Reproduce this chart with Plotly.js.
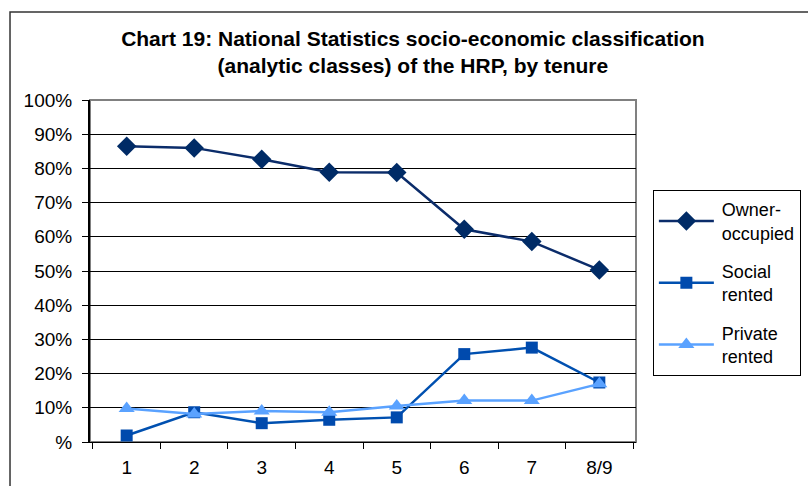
<!DOCTYPE html>
<html>
<head>
<meta charset="utf-8">
<script src="https://cdn.plot.ly/plotly-3.0.1.min.js"></script>
<style>
  html, body { margin: 0; padding: 0; background: #fff; }
  #plotContainer { width: 808px; height: 486px; }
</style>
</head>
<body>
<div id="plotContainer"></div>
<script>
// NS-SEC analytic classes of the HRP
var classes = ["1", "2", "3", "4", "5", "6", "7", "8/9"];

// share of each class by tenure, percent
var ownerOccupied = [86.5, 86.0, 82.7, 78.9, 78.8, 62.2, 58.6, 50.3];
var socialRented = [1.9, 8.7, 5.5, 6.5, 7.2, 25.7, 27.6, 17.4];
var privateRented = [9.8, 8.2, 9.1, 8.7, 10.5, 12.1, 12.1, 17.0];

var yTickVals = [0, 10, 20, 30, 40, 50, 60, 70, 80, 90, 100];
var yTickText = ["%", "10%", "20%", "30%", "40%", "50%", "60%", "70%", "80%", "90%", "100%"];

var font = "Liberation Sans, Arial, sans-serif";

var trace1 = {
  x: classes,
  y: ownerOccupied,
  name: "Owner-<br>occupied",
  legendgroup: "a",
  mode: "lines+markers",
  type: "scatter",
  line: { color: "#0b2c6a", width: 2.5 },
  marker: { symbol: "diamond", size: 15, color: "#002b66" },
};

var trace2 = {
  x: classes,
  y: socialRented,
  name: "Social<br>rented",
  legendgroup: "b",
  mode: "lines+markers",
  type: "scatter",
  line: { color: "#0050b0", width: 2.5 },
  marker: { symbol: "square", size: 12, color: "#004aad" },
};

var trace3 = {
  x: classes,
  y: privateRented,
  name: "Private<br>rented",
  legendgroup: "c",
  mode: "lines+markers",
  type: "scatter",
  line: { color: "#5aa2ff", width: 2.5 },
  marker: { symbol: "triangle-up", size: 14, color: "#5aa2ff" },
};

var data = [trace1, trace2, trace3];

var layout = {
  width: 808,
  height: 486,
  margin: { l: 90, r: 172, t: 100, b: 44 },
  paper_bgcolor: "#ffffff",
  plot_bgcolor: "#ffffff",
  font: { family: font, size: 19, color: "#000" },
  showlegend: true,
  title: {
    text: "<b>Chart 19: National Statistics socio-economic classification<br>(analytic classes) of the HRP, by tenure</b>",
    font: { family: font, size: 21, color: "#000" },
    xref: "container",
    x: 0.511,
    xanchor: "center",
    yref: "container",
    y: 0.905,
    yanchor: "top",
  },
  xaxis: {
    type: "category",
    tickson: "boundaries",
    ticks: "outside",
    ticklen: 6,
    tickcolor: "#000",
    ticklabelstandoff: 8,
    showgrid: false,
    showline: true,
    linecolor: "#000",
    linewidth: 1,
    tickfont: { family: font, size: 19 },
    fixedrange: true,
  },
  yaxis: {
    range: [0, 100],
    tickvals: yTickVals,
    ticktext: yTickText,
    ticks: "outside",
    ticklen: 6,
    tickcolor: "#000",
    ticklabelstandoff: 6,
    showgrid: true,
    gridcolor: "#000",
    gridwidth: 1,
    showline: true,
    linecolor: "#000",
    linewidth: 2,
    zeroline: false,
    tickfont: { family: font, size: 19 },
    fixedrange: true,
  },
  legend: {
    xref: "container",
    yref: "container",
    x: 0.808,
    xanchor: "left",
    y: 0.609,
    yanchor: "top",
    bgcolor: "#fff",
    bordercolor: "#000",
    borderwidth: 1,
    itemwidth: 58,
    tracegroupgap: 12,
    font: { family: font, size: 18, color: "#000" },
  },
  shapes: [
    // outer chart frame, cut off at the right and bottom
    {
      type: "rect", xref: "paper", yref: "paper",
      x0: -0.1465, x1: 1.4, y0: -0.3, y1: 1.257,
      line: { color: "#333", width: 1.5 },
      layer: "below",
    },
    // plot area border
    {
      type: "rect", xref: "paper", yref: "paper",
      x0: 0, x1: 1, y0: 0, y1: 1,
      line: { color: "#808080", width: 2 },
      layer: "below",
    },
  ],
};

var config = { staticPlot: true };

// stretch the legend line samples so they span the wider symbol slot
function widenLegendLines() {
  document.querySelectorAll("#plotContainer .legendlines path").forEach(function (p) {
    p.setAttribute("d", "M5,0h55");
  });
  document.querySelectorAll("#plotContainer .legendpoints path").forEach(function (p) {
    p.setAttribute("transform", "translate(32.5,0)");
  });
}

Plotly.newPlot("plotContainer", data, layout, config).then(widenLegendLines);
</script>
</body>
</html>
